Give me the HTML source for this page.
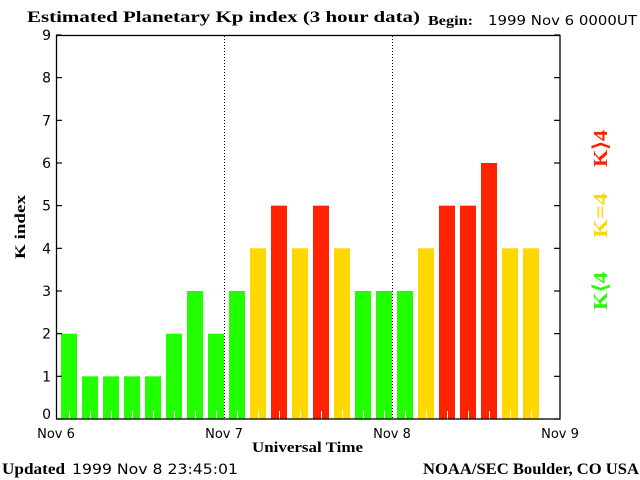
<!DOCTYPE html>
<html><head><style>
html,body{margin:0;padding:0;background:#fff;width:640px;height:480px;overflow:hidden}
svg{display:block}
.s{font-family:"Liberation Serif",serif;font-weight:bold}
.a{font-family:"DejaVu Sans","Liberation Sans",sans-serif}
</style></head><body>
<svg width="640" height="480" viewBox="0 0 640 480" xmlns="http://www.w3.org/2000/svg">
<text x="27" y="22" class="s" font-size="16" textLength="393" lengthAdjust="spacingAndGlyphs">Estimated Planetary Kp index (3 hour data)</text>
<text x="428" y="25" class="s" font-size="14" textLength="45" lengthAdjust="spacingAndGlyphs">Begin:</text>
<text x="488" y="25" class="a" font-size="13" textLength="149" lengthAdjust="spacingAndGlyphs">1999 Nov 6 0000UT</text>
<g id="bars"></g>
<g stroke="#000" stroke-width="1.3" fill="none">
<rect x="56.5" y="35.5" width="503.5" height="383.5"/>
</g>
<g stroke="#000" stroke-width="1" stroke-dasharray="1,2">
<line x1="224.5" y1="36" x2="224.5" y2="419"/>
<line x1="392.5" y1="36" x2="392.5" y2="419"/>
</g>
<g id="ticks" stroke="#000" stroke-width="1.2"></g>
<g class="a" font-size="14" text-anchor="end" id="yl"></g>
<g class="a" font-size="13" text-anchor="middle">
<text x="56" y="438">Nov 6</text>
<text x="224" y="438">Nov 7</text>
<text x="392" y="438">Nov 8</text>
<text x="560" y="438">Nov 9</text>
</g>
<text x="252" y="452" class="s" font-size="15" textLength="111" lengthAdjust="spacingAndGlyphs">Universal Time</text>
<text x="25" y="259" class="s" font-size="15" textLength="64" lengthAdjust="spacingAndGlyphs" transform="rotate(-90 25 259)">K index</text>
<text x="607" y="167" class="s" font-size="20" fill="#ff2200" textLength="37" lengthAdjust="spacingAndGlyphs" transform="rotate(-90 607 167)">K&#x27E9;4</text>
<text x="607" y="238" class="s" font-size="20" fill="#ffd800" textLength="45" lengthAdjust="spacingAndGlyphs" transform="rotate(-90 607 238)">K=4</text>
<text x="607" y="310" class="s" font-size="20" fill="#22ff00" textLength="38" lengthAdjust="spacingAndGlyphs" transform="rotate(-90 607 310)">K&#x27E8;4</text>
<text x="2" y="474" class="s" font-size="16" textLength="63" lengthAdjust="spacingAndGlyphs">Updated</text>
<text x="72" y="474" class="a" font-size="14" textLength="166" lengthAdjust="spacingAndGlyphs">1999 Nov  8 23:45:01</text>
<text x="423" y="474" class="s" font-size="16" textLength="216" lengthAdjust="spacingAndGlyphs">NOAA/SEC Boulder, CO USA</text>
</svg>
<script>
var d=[2,1,1,1,1,2,3,2,3,4,5,4,5,4,3,3,3,4,5,5,6,4,4];
var ns="http://www.w3.org/2000/svg",g=document.getElementById("bars"),t=document.getElementById("ticks"),yl=document.getElementById("yl");
function el(p,n,a){var e=document.createElementNS(ns,n);for(var k in a)e.setAttribute(k,a[k]);p.appendChild(e);return e;}
var u=384/9;
d.forEach(function(v,i){var x=56+i*21+5,h=v*u;var c=v<4?"#22ff00":(v==4?"#ffd800":"#ff2200");
el(g,"rect",{x:x,y:419-h,width:16,height:h,fill:c});
el(g,"line",{x1:x+8.5,y1:411,x2:x+8.5,y2:419,stroke:"#fff","stroke-width":1});});
for(var k=0;k<=9;k++){var y=419-k*u;
el(t,"line",{x1:56,y1:y,x2:62,y2:y});el(t,"line",{x1:554,y1:y,x2:560,y2:y});
var tx=el(yl,"text",{x:51,y:(k==0?419:y+5)});tx.textContent=k;}
</script>
</body></html>
